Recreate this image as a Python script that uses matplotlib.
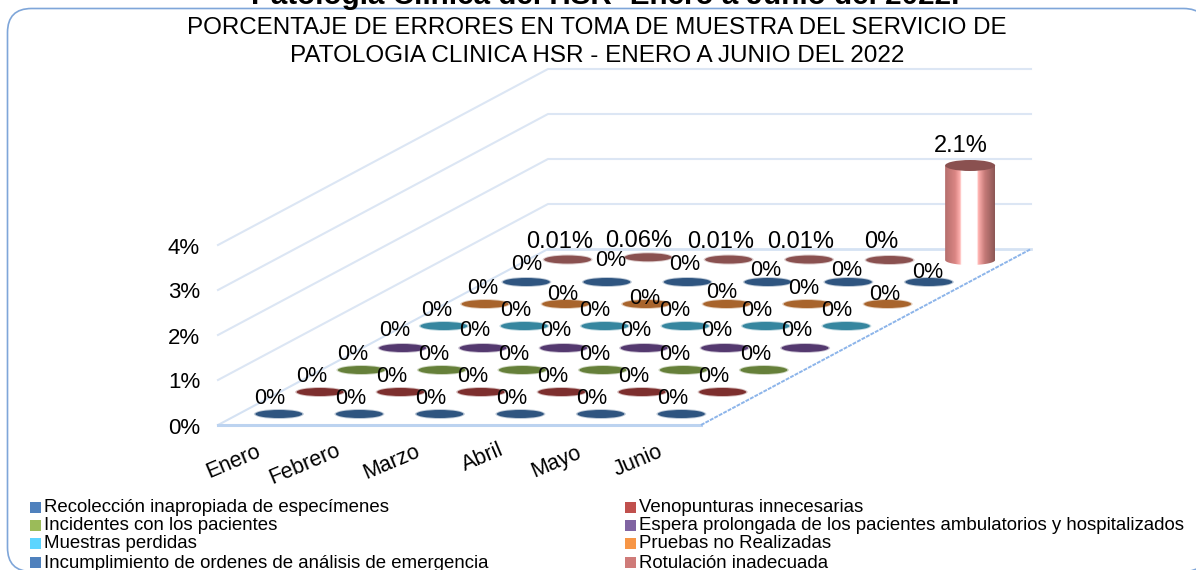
import numpy as np
import matplotlib.pyplot as plt
from matplotlib.patches import Ellipse, Rectangle, FancyBboxPatch
from matplotlib.colors import LinearSegmentedColormap

plt.rcParams['font.family'] = ['Liberation Sans', 'DejaVu Sans']

months = ["Enero", "Febrero", "Marzo", "Abril", "Mayo", "Junio"]
series_names = ["Recolección inapropiada de especímenes", "Venopunturas innecesarias",
	"Incidentes con los pacientes", "Espera prolongada de los pacientes ambulatorios y hospitalizados",
	"Muestras perdidas", "Pruebas no Realizadas",
	"Incumplimiento de ordenes de análisis de emergencia", "Rotulación inadecuada"]

# one row per legend entry, in the order they run from front to back
recoleccion = [0, 0, 0, 0, 0, 0]
venopunturas = [0, 0, 0, 0, 0, 0]
incidentes = [0, 0, 0, 0, 0, 0]
espera = [0, 0, 0, 0, 0, 0]
perdidas = [0, 0, 0, 0, 0, 0]
no_realizadas = [0, 0, 0, 0, 0, 0]
incumplimiento = [0, 0, 0, 0, 0, 0]
rotulacion = [0.01, 0.06, 0.01, 0.01, 0, 2.1]
values = [recoleccion, venopunturas, incidentes, espera, perdidas, no_realizadas, incumplimiento, rotulacion]

y_ticks = [0, 1, 2, 3, 4]

top_colors = ["#2f5580", "#7d2f2e", "#66803a", "#54396f", "#36869f", "#a8642c", "#2f5580", "#8a5150"]
legend_colors = ["#4f81bd", "#c0504d", "#9bbb59", "#8064a2", "#5dd5ff", "#f79646", "#4f81bd", "#cf7b79"]

# floor corners and steps, in pixels of the picture
X0, Y0 = 218, 425
MONTH_DX = 80.5
SERIES_DX, SERIES_DY = 41.25, -22
PCT = 45


def project(m, s, v=0):
	# month, series, percent -> pixel
	return X0 + m * MONTH_DX + s * SERIES_DX, Y0 + s * SERIES_DY - v * PCT


fig = plt.figure(figsize=(11.96, 5.70), dpi=100)
ax = fig.add_axes([0, 0, 1, 1])
ax.set_xlim(0, 1196)
ax.set_ylim(570, 0)
ax.axis('off')

# frame
frame = FancyBboxPatch((7.5 + 24, 8.5 + 24), 1200 - 48, 563 - 48, boxstyle="round,pad=24,rounding_size=24",
	fc='white', ec='#7fa6d9', lw=1.2, zorder=0)
ax.add_patch(frame)

# walls
for t in y_ticks:
	x1, y1 = project(0, 0, t)
	x2, y2 = project(0, 8, t)
	x3, y3 = project(6, 8, t)
	if t > 0:
		ax.plot([x1, x2, x3], [y1, y2, y3], color='#dce6f4', lw=1.5, zorder=1)
	ax.text(x1 - 34, y1 + 3, str(t) + "%", fontsize=16, ha='center', va='center')

# floor
xa, ya = project(0, 0)
xb, yb = project(6, 0)
xc, yc = project(6, 8)
xd, yd = project(0, 8)
ax.plot([xd, xc], [yd, yc], color='#d5e2f3', lw=2, zorder=1)
ax.plot([xa, xd], [ya, yd], color='#d5e2f3', lw=1.5, zorder=1)
ax.plot([xa, xb], [ya, yb], color='#bcd3f0', lw=2.2, zorder=2)
ax.plot([xb, xc], [yb, yc], color='#8db5ea', lw=1.4, ls=(0, (2, 0.6)), zorder=2)

# columns, back rows are drawn first
cmap = LinearSegmentedColormap.from_list("col", [(0, '#b56f6d'), (0.2, '#d98583'), (0.3, '#ffb0ae'),
	(0.33, '#ffffff'), (0.64, '#ffffff'), (0.67, '#ffb0ae'), (0.8, '#c57a78'), (1, '#8c5755')])
grad = np.linspace(0, 1, 200).reshape(1, -1)
for s in range(len(values) - 1, -1, -1):
	for m in range(len(months)):
		v = values[s][m]
		cx, cy = project(m + 0.5, s + 0.5)
		tx, ty = project(m + 0.5, s + 0.5, v)
		if v >= 0.5:
			w = 50
			im = ax.imshow(grad, cmap=cmap, extent=(cx - w / 2, cx + w / 2, cy + 5, ty), aspect='auto', zorder=3 + 8 - s)
			a = np.linspace(0, np.pi, 30)
			verts = np.vstack([[[cx - w / 2, ty]], [[cx + w / 2, ty]],
				np.column_stack([cx + w / 2 * np.cos(a), cy + 5 * np.sin(a)])])
			clip = plt.Polygon(verts, closed=True, transform=ax.transData, fc='none', ec='none')
			ax.add_patch(clip)
			im.set_clip_path(clip)
			ax.add_patch(Ellipse((tx, ty), w, 11, fc=top_colors[s], ec='none', zorder=3.5 + 8 - s))
		else:
			# soft edge like the blurred original
			ax.add_patch(Ellipse((tx, ty), 50, 10, fc=top_colors[s], ec='none', alpha=0.3, zorder=3 + 8 - s))
			ax.add_patch(Ellipse((tx, ty), 47, 8, fc=top_colors[s], ec='none', zorder=3 + 8 - s))
ax.set_xlim(0, 1196)
ax.set_ylim(570, 0)

# value labels, offsets from the top of each mark
label_dx = [[-9] * 6, [-8.5] * 6, [-8.5] * 6, [-8] * 6, [-7, -9, -10, -10.5, -9, -10],
	[-2, -3, -1, -5, -3, -3], [0, 4, -3, -2, -2, -1], [-8, -9, -8, -8, -8, -9]]
label_dy = [[-18] * 6, [-18] * 6, [-18] * 6, [-19] * 6, [-18] * 6,
	[-18, -11, -7, -14, -17, -11], [-19, -23, -19, -14, -14, -11], [-20, -18, -20, -20, -20, -21]]
for s in range(len(values)):
	for m in range(len(months)):
		v = values[s][m]
		tx, ty = project(m + 0.5, s + 0.5, v)
		size = 15.5 if s < 7 else 17
		ax.text(tx + label_dx[s][m], ty + label_dy[s][m] + 2, str(v) + "%", fontsize=size, ha='center', va='center', zorder=20)

# month labels
month_x = [233, 305, 392, 483, 556, 638]
month_y = [462, 464, 462, 457, 462, 461]
for m in range(len(months)):
	ax.text(month_x[m], month_y[m], months[m], fontsize=15.5, rotation=23, ha='center', va='center', rotation_mode='anchor')

# titles
ax.text(605, 4, "Patología Clínica del HSR- Enero a Junio del 2022.", fontsize=21.3, fontweight='bold', ha='center', va='baseline')
ax.text(597, 28.5, "PORCENTAJE DE ERRORES EN TOMA DE MUESTRA DEL SERVICIO DE", fontsize=17.4, ha='center', va='center')
ax.text(597, 56, "PATOLOGIA CLINICA HSR - ENERO A JUNIO DEL 2022", fontsize=17.5, ha='center', va='center')

# legend
legend_rows = [507, 525, 543, 562]
for i in range(len(series_names)):
	row = legend_rows[i // 2]
	sx = 30 if i % 2 == 0 else 625
	ax.add_patch(Rectangle((sx, row - 5), 10.5, 10.5, fc=legend_colors[i], ec='none'))
	ax.text(sx + 14, row + 1, series_names[i], fontsize=13.4, ha='left', va='center')

fig.savefig("out.png", dpi=100)
